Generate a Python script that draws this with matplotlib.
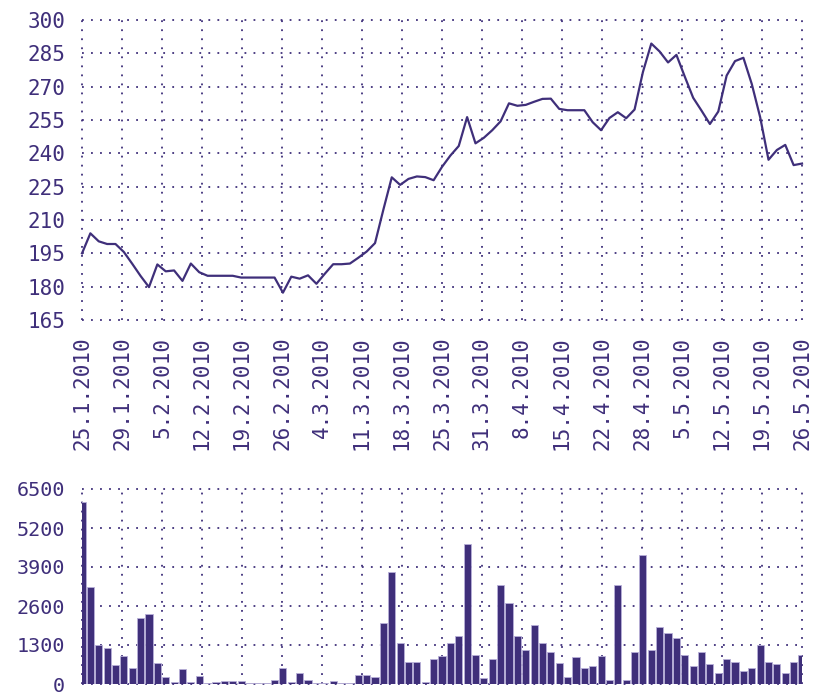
import matplotlib
matplotlib.use("Agg")
import matplotlib.pyplot as plt
import numpy as np

# closing prices, one per trading day
price = [195, 204, 200.4, 199.2, 199.2, 195.6, 190.3, 184.8, 179.8, 190,
         186.9, 187.3, 182.6, 190.4, 186.5, 184.9, 184.9, 184.9, 184.9, 184.1,
         184.1, 184.1, 184.1, 184.1, 177.3, 184.5, 183.6, 185.1, 181.3, 185.8,
         190.1, 190.1, 190.4, 193, 195.8, 199.6, 214.7, 229.2, 225.8, 228.5,
         229.6, 229.3, 227.9, 233.9, 239, 243.3, 256.3, 244.5, 247, 250.4,
         254.4, 262.5, 261.4, 261.8, 263.2, 264.5, 264.6, 260, 259.4, 259.4,
         259.4, 254, 250.4, 255.9, 258.5, 255.8, 259.7, 276.6, 289.4, 285.8,
         280.9, 284.3, 274.5, 265, 259.2, 253.2, 258.8, 275, 281.5, 283,
         271.2, 256.3, 237.1, 241.5, 243.8, 234.7, 235.4]

volume = [6060, 3230, 1300, 1200, 620, 920, 530, 2200, 2350, 700,
          230, 60, 500, 60, 270, 40, 70, 90, 110, 100,
          40, 40, 20, 130, 530, 60, 380, 130, 40, 40,
          110, 40, 40, 290, 290, 220, 2050, 3750, 1380, 750,
          750, 60, 840, 950, 1360, 1600, 4670, 970, 200, 840,
          3290, 2690, 1600, 1140, 1980, 1360, 1060, 710, 230, 890,
          530, 600, 920, 130, 3290, 130, 1060, 4300, 1140, 1900,
          1690, 1520, 980, 600, 1060, 675, 380, 840, 750, 435,
          530, 1295, 750, 675, 380, 750, 980]

date_labels = ["25.1.2010", "29.1.2010", "5.2.2010", "12.2.2010", "19.2.2010",
               "26.2.2010", "4.3.2010", "11.3.2010", "18.3.2010", "25.3.2010",
               "31.3.2010", "8.4.2010", "15.4.2010", "22.4.2010", "28.4.2010",
               "5.5.2010", "12.5.2010", "19.5.2010", "26.5.2010"]

price_ticks = list(range(165, 301, 15))
volume_ticks = list(range(0, 6501, 1300))

col = "#3f2f7a"
plt.rcParams["font.family"] = ["DejaVu Sans Mono"]

x = np.arange(len(price))
xt = np.linspace(0, len(price) - 1, len(date_labels))

fig = plt.figure(figsize=(8.14, 6.95), dpi=100)
ax1 = fig.add_axes([82 / 814, 1 - 320 / 695, 720 / 814, 300 / 695])
ax2 = fig.add_axes([82 / 814, 1 - 684 / 695, 720 / 814, 195 / 695])

def style(ax, yt):
    for s in ax.spines.values():
        s.set_visible(False)
    ax.set_xlim(0, len(price) - 1)
    ax.set_xticks(xt)
    ax.set_yticks(yt)
    ax.set_ylim(yt[0], yt[-1])
    ax.grid(True, color=col, linestyle=(0, (1, 4)), linewidth=1.3)
    ax.set_axisbelow(True)
    ax.tick_params(length=0, labelsize=15, colors=col, pad=12)
    # grid lines sit on the edges, keep them from being clipped
    for gl in ax.get_xgridlines() + ax.get_ygridlines():
        gl.set_clip_on(False)

style(ax1, price_ticks)
ax1.plot(x, price, color=col, linewidth=1.6, clip_on=False)
ax1.set_xticklabels(date_labels, rotation=90)

style(ax2, volume_ticks)
ax2.tick_params(axis="y", labelsize=14.5)
ax2.bar(x, volume, width=0.85, color=col, edgecolor="#b8b0d8", linewidth=0.6)
ax2.set_xticklabels([])

fig.savefig("out.png", dpi=100)
